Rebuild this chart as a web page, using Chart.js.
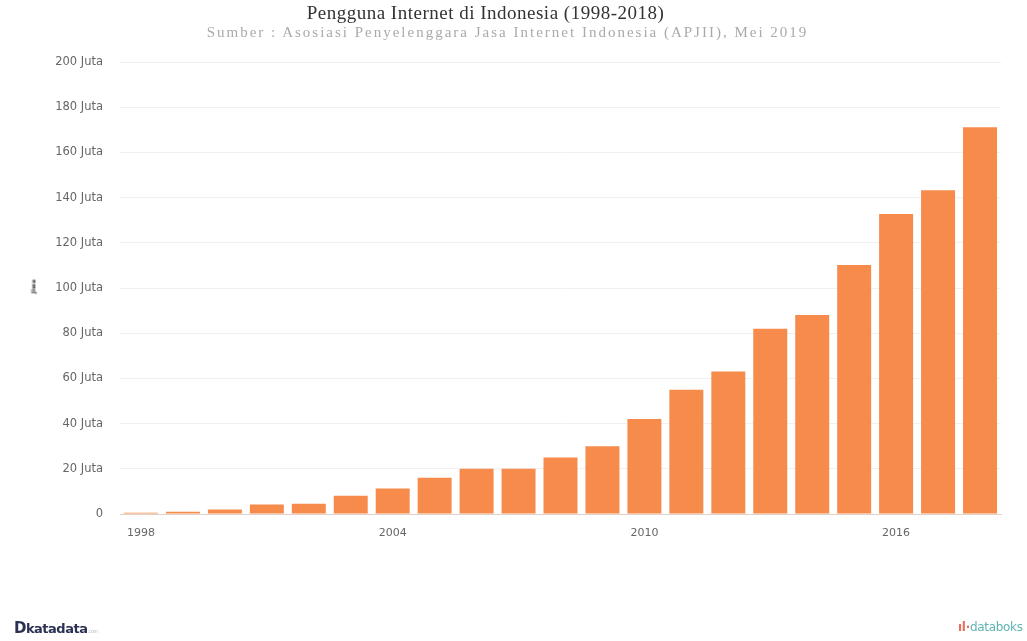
<!DOCTYPE html>
<html>
<head>
<meta charset="utf-8">
<script src="https://cdn.jsdelivr.net/npm/chart.js@4/dist/chart.umd.min.js"></script>
<style>
  html, body { margin: 0; padding: 0; background: #fff; }
  #wrap { position: relative; width: 1027px; height: 641px; overflow: hidden; }
  #c { position: absolute; left: 0; top: 0; }
  .title { position: absolute; left: 0; width: 1027px; text-align: center; font-family: 'Liberation Serif', serif; white-space: nowrap; }
  #t1 { top: 2px; font-size: 19px; color: #333; left: -28px; letter-spacing: 0.5px; }
  #t2 { top: 24px; font-size: 15px; color: #aaa; left: -6px; letter-spacing: 2px; }
  #jiwa { position: absolute; left: 18px; top: 283px; width: 30px; text-align: center; transform: rotate(-90deg); font-family: 'DejaVu Sans', sans-serif; font-weight: bold; font-size: 6px; color: #333; }
  #kata { position: absolute; left: 14px; top: 619px; font-family: 'DejaVu Sans', sans-serif; font-weight: bold; font-size: 13px; color: #2b3152; letter-spacing: -0.5px; }
  #kata .d { font-size: 15px; }
  #kata .com { font-size: 5px; color: #bbb; font-weight: normal; }
  #dbk { position: absolute; left: 958px; top: 620px; font-family: 'DejaVu Sans', sans-serif; font-size: 12px; color: #5fb3b3; letter-spacing: -0.3px; }
  #dbk .ic { color: #e8705a; font-weight: bold; }
</style>
</head>
<body>
<div id="wrap">
  <canvas id="c" width="1027" height="641"></canvas>
  <div class="title" id="t1">Pengguna Internet di Indonesia (1998-2018)</div>
  <div class="title" id="t2">Sumber : Asosiasi Penyelenggara Jasa Internet Indonesia (APJII), Mei 2019</div>
  <div id="jiwa">Jiwa</div>
  <div id="kata"><span class="d">D</span>katadata<span class="com">.com</span></div>
  <div id="dbk"><span class="ic">ıl·</span>databoks</div>
</div>
<script>
const years = ['1998','1999','2000','2001','2002','2003','2004','2005','2006','2007','2008','2009','2010','2011','2012','2013','2014','2015','2016','2017','2018'];
const users = [0.5, 1, 2, 4.2, 4.5, 8.08, 11.23, 16, 20, 20, 25, 30, 42, 55, 63, 82, 88, 110.2, 132.7, 143.26, 171.17];
const yTicks = [0, 20, 40, 60, 80, 100, 120, 140, 160, 180, 200];
const labelEvery = 6;

new Chart(document.getElementById('c'), {
  type: 'bar',
  data: {
    labels: years,
    datasets: [{
      data: users,
      backgroundColor: '#f68b4c',
      borderWidth: 0,
      barPercentage: 0.81,
      categoryPercentage: 1.0
    }]
  },
  options: {
    responsive: false,
    animation: false,
    layout: { padding: { top: 62, right: 26, left: 0, bottom: 0 } },
    plugins: { legend: { display: false }, tooltip: { enabled: false } },
    scales: {
      x: {
        offset: true,
        grid: { display: false, drawTicks: false },
        border: { display: true, color: '#e2cfc6', width: 1 },
        ticks: {
          autoSkip: false, maxRotation: 0, padding: 13,
          color: '#666', font: { family: 'DejaVu Sans', size: 11 },
          callback: function(v, i) { return i % labelEvery === 0 ? years[i] : ''; }
        },
        afterFit: function(s) { s.height = 127; }
      },
      y: {
        min: 0, max: 200,
        afterBuildTicks: function(s) { s.ticks = yTicks.map(v => ({ value: v })); },
        grid: { color: '#f0f0f0', drawTicks: false, lineWidth: 1 },
        border: { display: false },
        ticks: {
          padding: 17, color: '#666', font: { family: 'DejaVu Sans', size: 11.5 },
          callback: function(v) { return v === 0 ? '0' : v + ' Juta'; }
        },
        afterFit: function(s) { s.width = 120; }
      }
    }
  }
});
</script>
</body>
</html>
